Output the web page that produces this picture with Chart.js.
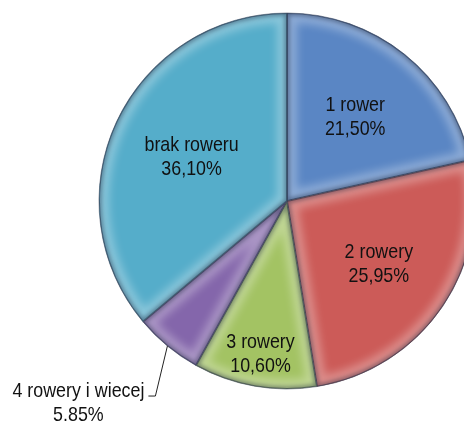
<!DOCTYPE html>
<html>
<head>
<meta charset="utf-8">
<script src="https://cdn.jsdelivr.net/npm/chart.js@4/dist/chart.umd.min.js"></script>
<style>
  html, body { margin: 0; padding: 0; background: #ffffff; }
  #wrap { width: 464px; height: 424px; overflow: hidden; position: relative; }
  #c { position: absolute; left: 0; top: 0; }
</style>
</head>
<body>
<div id="wrap"><canvas id="c" width="574" height="424"></canvas></div>
<script>
// Households by number of bicycles (share, %)
const categories = ['1 rower', '2 rowery', '3 rowery', '4 rowery i wiecej', 'brak roweru'];
const shares = [21.50, 25.95, 10.60, 5.85, 36.10];
const valueLabels = ['21,50%', '25,95%', '10,60%', '5.85%', '36,10%'];

const sliceColors = ['#5a86c4', '#cc5b58', '#a3c363', '#8466ab', '#55adca'];
// where each label sits, as a fraction of the radius along the slice's mid-angle; null = outside label
const labelRadius = [0.58, 0.59, 0.82, null, 0.56];

const FONT = '21px "Liberation Sans", Arial, sans-serif';
const SQUEEZE = 0.85; // condensed lettering

function drawText(ctx, text, x, y, align) {
  ctx.save();
  ctx.translate(x, y);
  ctx.scale(SQUEEZE, 1);
  ctx.textAlign = align || 'center';
  ctx.fillText(text, 0, 0);
  ctx.restore();
}

function arcPath(ctx, a) {
  ctx.beginPath();
  ctx.moveTo(a.x, a.y);
  ctx.arc(a.x, a.y, a.outerRadius, a.startAngle, a.endAngle);
  ctx.closePath();
}

// soft bevel on every slice: a pale rim inside the edges and a darker edge line
const bevel = {
  id: 'bevel',
  afterDatasetDraw(chart) {
    const ctx = chart.ctx;
    const meta = chart.getDatasetMeta(0);
    meta.data.forEach((a) => {
      ctx.save();
      arcPath(ctx, a);
      ctx.clip();
      ctx.lineJoin = 'round';

      ctx.filter = 'blur(4px)';
      arcPath(ctx, a);
      ctx.strokeStyle = 'rgba(255,255,255,0.30)';
      ctx.lineWidth = 20;
      ctx.stroke();

      ctx.filter = 'blur(2px)';
      arcPath(ctx, a);
      ctx.strokeStyle = 'rgba(10,20,45,0.40)';
      ctx.lineWidth = 5;
      ctx.stroke();

      ctx.filter = 'none';
      arcPath(ctx, a);
      ctx.strokeStyle = 'rgba(10,20,45,0.35)';
      ctx.lineWidth = 2;
      ctx.stroke();
      ctx.restore();
    });
  }
};

const sliceLabels = {
  id: 'sliceLabels',
  afterDraw(chart) {
    const ctx = chart.ctx;
    const meta = chart.getDatasetMeta(0);
    ctx.save();
    ctx.font = FONT;
    ctx.fillStyle = '#111111';
    ctx.textBaseline = 'alphabetic';
    meta.data.forEach((a, i) => {
      const mid = (a.startAngle + a.endAngle) / 2;
      const f = labelRadius[i];
      if (f !== null) {
        const cx = a.x + Math.cos(mid) * a.outerRadius * f;
        const cy = a.y + Math.sin(mid) * a.outerRadius * f;
        drawText(ctx, categories[i], cx, cy - 5);
        drawText(ctx, valueLabels[i], cx, cy + 19);
      } else {
        // outside label with a leader line
        const sx = a.x + Math.cos(mid) * a.outerRadius;
        const sy = a.y + Math.sin(mid) * a.outerRadius;
        const kx = sx - 12, ky = sy + 50;
        const ex = kx - 7;
        ctx.strokeStyle = '#222222';
        ctx.lineWidth = 1;
        ctx.beginPath();
        ctx.moveTo(sx, sy);
        ctx.lineTo(kx, ky);
        ctx.lineTo(ex, ky);
        ctx.stroke();
        const right = ex - 4;
        const w = ctx.measureText(categories[i]).width * SQUEEZE;
        drawText(ctx, categories[i], right, ky + 1, 'right');
        drawText(ctx, valueLabels[i], right - w / 2, ky + 25);
      }
    });
    ctx.restore();
  }
};

new Chart(document.getElementById('c'), {
  type: 'pie',
  data: {
    labels: categories,
    datasets: [{
      data: shares,
      backgroundColor: sliceColors,
      borderColor: 'rgba(25,35,60,0.45)',
      borderWidth: 1,
      radius: 188
    }]
  },
  options: {
    responsive: false,
    devicePixelRatio: 1,
    animation: false,
    layout: { padding: { top: 0, bottom: 22, left: 0, right: 0 } },
    plugins: {
      legend: { display: false },
      tooltip: { enabled: false }
    }
  },
  plugins: [bevel, sliceLabels]
});
</script>
</body>
</html>
